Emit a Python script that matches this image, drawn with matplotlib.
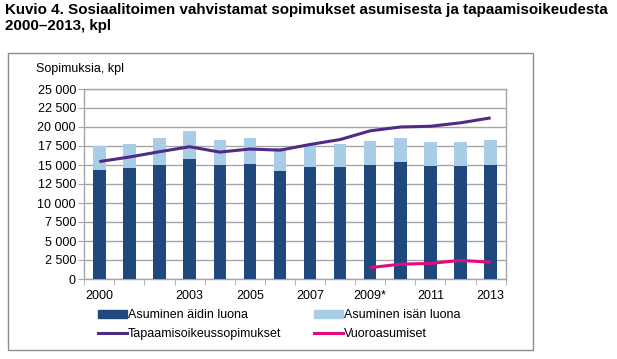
import matplotlib
matplotlib.use("Agg")
import matplotlib.pyplot as plt
from matplotlib.patches import Patch, Rectangle
from matplotlib.lines import Line2D
import numpy as np

plt.rcParams['font.family'] = ['Liberation Sans', 'DejaVu Sans']

years = ['2000', '2001', '2002', '2003', '2004', '2005', '2006', '2007',
         '2008', '2009*', '2010', '2011', '2012', '2013']
tick_labels = ['2000', '', '', '2003', '', '2005', '', '2007',
               '', '2009*', '', '2011', '', '2013']
aidin = [14300, 14650, 15000, 15750, 15050, 15150, 14250, 14700,
         14700, 14950, 15350, 14850, 14850, 15050]
isan = [3200, 3150, 3500, 3750, 3250, 3450, 3050, 3000,
        3100, 3200, 3250, 3200, 3200, 3200]
tapaamis = [15450, 16050, 16750, 17400, 16700, 17100, 16950, 17700,
            18350, 19500, 20000, 20100, 20550, 21200]
vuoro = [np.nan]*9 + [1500, 1950, 2050, 2450, 2200]

c_dark = '#1f497d'
c_light = '#a9cde6'
c_purple = '#4f2a86'
c_mag = '#e5097f'
grid_c = '#a6a6a6'

W, H = 617, 359
fig = plt.figure(figsize=(W/100, H/100), dpi=100)

# outer frame
fig.patches.append(Rectangle((8/W, (H-350)/H), (533-8)/W, (350-53)/H,
                             transform=fig.transFigure, fill=False,
                             edgecolor='#8c8c8c', linewidth=1.0))

fig.text(5/W, 1-3/H, 'Kuvio 4. Sosiaalitoimen vahvistamat sopimukset asumisesta ja tapaamisoikeudesta\n2000–2013, kpl',
         ha='left', va='top', fontsize=10.9, fontweight='bold', linespacing=1.22)

ax = fig.add_axes([84.3/W, (H-279)/H, 421.4/W, 190/H])
x = np.arange(len(years))
bw = 0.41
ax.bar(x, aidin, width=bw, color=c_dark, zorder=3)
ax.bar(x, isan, width=bw, bottom=aidin, color=c_light, zorder=3)
ax.plot(x, tapaamis, color=c_purple, linewidth=2.2, zorder=4, solid_capstyle='butt')
ax.plot(x, vuoro, color=c_mag, linewidth=2.2, zorder=4, solid_capstyle='butt')

ax.set_xlim(-0.5, len(years)-0.5)
ax.set_ylim(0, 25000)
yt = np.arange(0, 25001, 2500)
ax.set_yticks(yt)
ax.set_yticklabels([f'{v:,}'.replace(',', ' ') for v in yt], fontsize=9)
ax.set_xticks(x)
ax.set_xticklabels(tick_labels, fontsize=9)
ax.set_xticks(np.arange(-0.5, len(years), 1), minor=True)
ax.tick_params(axis='x', which='major', length=0, pad=8)
ax.tick_params(axis='x', which='minor', length=4, color=grid_c, direction='out')
ax.tick_params(axis='y', length=4, color=grid_c, direction='out', pad=2)
ax.yaxis.grid(True, color=grid_c, linewidth=1.0, zorder=0)
ax.set_axisbelow(True)
for s in ax.spines.values():
    s.set_color(grid_c)
    s.set_linewidth(1.0)

fig.text(36/W, 1-69/H, 'Sopimuksia, kpl', ha='left', va='center', fontsize=9)

# column-first order: left column then right column
handles = [Patch(color=c_dark),
           Line2D([], [], color=c_purple, linewidth=2.2),
           Patch(color=c_light),
           Line2D([], [], color=c_mag, linewidth=2.2)]
labels = ['Asuminen äidin luona', 'Tapaamisoikeussopimukset',
          'Asuminen isän luona', 'Vuoroasumiset']
fig.legend(handles, labels, ncol=2, loc='upper left',
           bbox_to_anchor=(93/W, 1-304/H), frameon=False, fontsize=9,
           handlelength=2.3, handleheight=0.6, handletextpad=0.1,
           columnspacing=2.6, labelspacing=0.55, borderaxespad=0)

fig.savefig('out.png', dpi=100)
